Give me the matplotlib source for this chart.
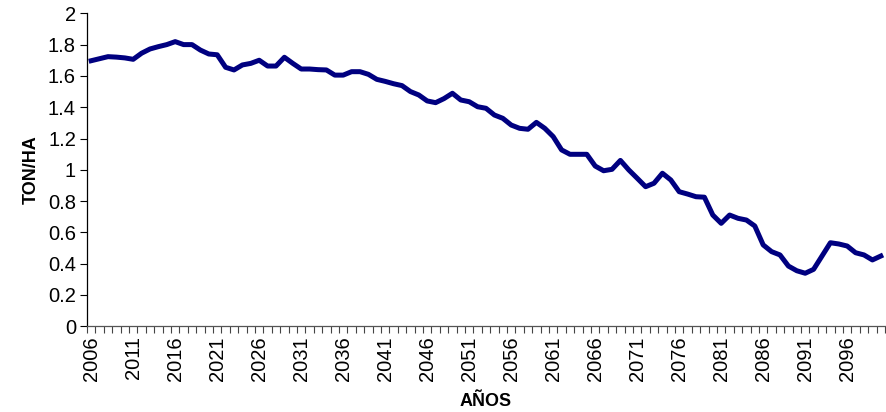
import numpy as np
import matplotlib
matplotlib.use('Agg')
import matplotlib.pyplot as plt

plt.rcParams['font.family'] = ['Liberation Sans', 'DejaVu Sans']

# Data (yield, TON/HA, 2006-2100)
years = list(range(2006, 2101))
yield_ton_ha = [
    1.697, 1.71, 1.723, 1.72, 1.715, 1.706, 1.745, 1.772, 1.787, 1.80,
    1.819, 1.80, 1.80, 1.765, 1.74, 1.735, 1.655, 1.638, 1.67, 1.68,
    1.70, 1.663, 1.663, 1.719, 1.68, 1.644, 1.644, 1.64, 1.638, 1.605,
    1.605, 1.627, 1.627, 1.61, 1.578, 1.565, 1.55, 1.538, 1.50, 1.478,
    1.44, 1.429, 1.455, 1.489, 1.446, 1.435, 1.403, 1.393, 1.35, 1.329,
    1.286, 1.265, 1.259, 1.303, 1.265, 1.212, 1.127, 1.099, 1.099, 1.099,
    1.024, 0.994, 1.003, 1.06, 0.999, 0.946, 0.892, 0.914, 0.978, 0.935,
    0.86, 0.845, 0.828, 0.825, 0.711, 0.658, 0.711, 0.69, 0.679, 0.641,
    0.52, 0.477, 0.456, 0.385, 0.355, 0.339, 0.364, 0.449, 0.534, 0.526,
    0.513, 0.47, 0.456, 0.424, 0.449,
]
y_ticks = [0, 0.2, 0.4, 0.6, 0.8, 1.0, 1.2, 1.4, 1.6, 1.8, 2.0]
y_tick_labels = ['0', '0.2', '0.4', '0.6', '0.8', '1', '1.2', '1.4', '1.6', '1.8', '2']

W, H = 887, 412
fig = plt.figure(figsize=(W / 100, H / 100), dpi=100)
ax = fig.add_axes([87 / W, (H - 326.3) / H, (885 - 87) / W, (326.3 - 13.3) / H])

x = np.arange(len(years))
ax.plot(x, yield_ton_ha, color='#000080', linewidth=3.6, solid_joinstyle='round')

ax.set_xlim(-0.5, len(years) - 0.5)
ax.set_ylim(0, 2)

# category axis: labels every 5 years, tick marks on category boundaries
label_pos = x[::5]
ax.set_xticks(label_pos)
ax.set_xticklabels([str(years[i]) for i in label_pos], rotation=90, fontsize=14.5)
ax.tick_params(axis='x', which='major', length=0, pad=7)
ax.set_xticks(np.arange(-0.5, len(years), 1), minor=True)
ax.tick_params(axis='x', which='minor', length=5, width=0.8, color='#444444', direction='out')

ax.set_yticks(y_ticks)
ax.set_yticklabels(y_tick_labels, fontsize=14.5, family=['Liberation Sans Narrow', 'Liberation Sans'])
ax.tick_params(axis='y', length=5, width=0.8, direction='out', pad=3)

for side in ['top', 'right']:
    ax.spines[side].set_visible(False)
ax.spines['left'].set_linewidth(0.9)
ax.spines['bottom'].set_linewidth(0.9)
ax.spines['bottom'].set_color('#555555')

ax.set_xlabel('AÑOS', fontsize=13, fontweight='bold', labelpad=9)
ax.set_ylabel('TON/HA', fontsize=13, fontweight='bold', labelpad=6)

fig.savefig('out.png', dpi=100)
